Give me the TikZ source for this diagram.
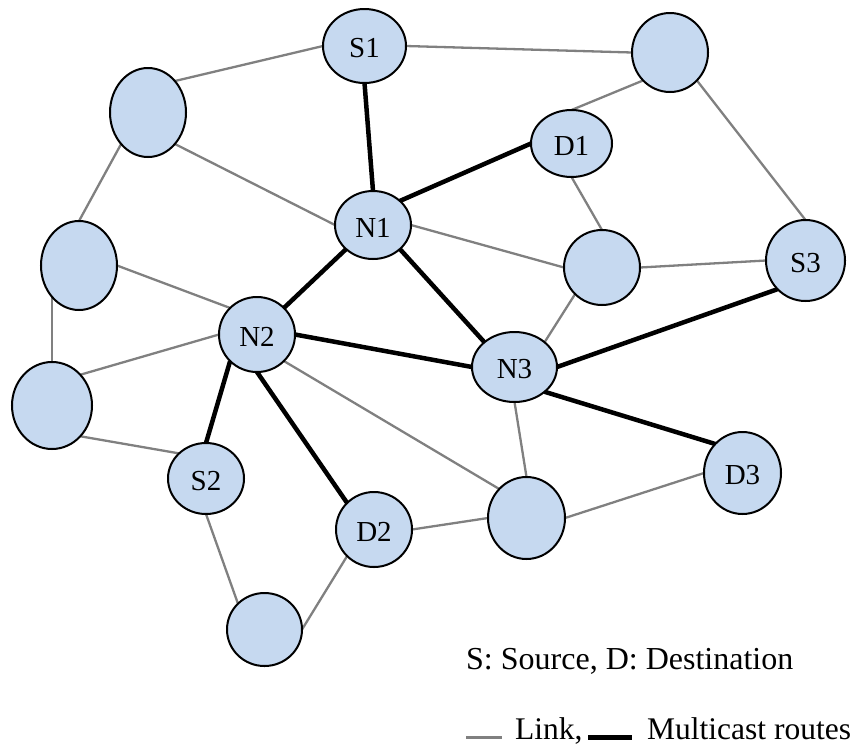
\documentclass[tikz,border=0pt]{standalone}
\usepackage{fontspec}
\setmainfont{Liberation Serif}
\usetikzlibrary{shapes.geometric,backgrounds}
\definecolor{nodefill}{RGB}{198,217,240}
\definecolor{linkgray}{RGB}{128,128,128}
\begin{document}
\begin{tikzpicture}[x=1pt,y=-1pt,
  router/.style={ellipse,draw=black,line width=2pt,fill=nodefill,inner sep=0pt,outer sep=0pt,
    text height=24pt,font=\fontsize{29}{33}\selectfont},
  link/.style={draw=linkgray,line width=2.3pt},
  route/.style={draw=black,line width=4.5pt},
  legend/.style={inner sep=0pt,anchor=base west,font=\fontsize{31.5}{36}\selectfont}]
\useasboundingbox (0,0) rectangle (856,745);

% routers and hosts
\node[router,minimum width=83pt,minimum height=74pt] (S1) at (364.5,46) {S1};
\node[router,minimum width=76pt,minimum height=79pt] (TR) at (670,52.5) {};
\node[router,minimum width=76pt,minimum height=89pt] (TL) at (148,112.5) {};
\node[router,minimum width=81pt,minimum height=67pt] (D1) at (571.5,143.5) {D1};
\node[router,minimum width=76pt,minimum height=68pt] (N1) at (373,225) {N1};
\node[router,minimum width=76pt,minimum height=89pt] (L) at (79,265.5) {};
\node[router,minimum width=76pt,minimum height=75pt] (MR) at (602,267.5) {};
\node[router,minimum width=79pt,minimum height=81pt] (S3) at (805.5,260.5) {S3};
\node[router,minimum width=76pt,minimum height=75pt] (N2) at (257,334.5) {N2};
\node[router,minimum width=80pt,minimum height=87pt] (LL) at (52,405.5) {};
\node[router,minimum width=85pt,minimum height=70pt] (N3) at (514.5,367) {N3};
\node[router,minimum width=76pt,minimum height=71pt] (S2) at (206,478.5) {S2};
\node[router,minimum width=77pt,minimum height=82pt] (D3) at (742.5,473) {D3};
\node[router,minimum width=76pt,minimum height=75pt] (D2) at (374,529.5) {D2};
\node[router,minimum width=77pt,minimum height=82pt] (BM) at (526.5,518) {};
\node[router,minimum width=75pt,minimum height=73pt] (B) at (264.5,629.5) {};

\begin{pgfonlayer}{background}
% plain links
\draw[link] (S1.west) -- (TL.north east);
\draw[link] (S1.east) -- (TR.west);
\draw[link] (TL.south east) -- (N1.west);
\draw[link] (TL.south west) -- (L.north);
\draw[link] (L.east) -- (N2.north west);
\draw[link] (L.south west) -- (L.south west |- LL.north);
\draw[link] (LL.north east) -- (N2.west);
\draw[link] (LL.south east) -- (S2.north west);
\draw[link] (S2.south) -- (B.north west);
\draw[link] (B.east) -- (D2.south west);
\draw[link] (D2.east) -- (BM.west);
\draw[link] (BM.east) -- (D3.west);
\draw[link] (N3.south) -- (BM.north);
\draw[link] (N2.south east) -- (BM.north west);
\draw[link] (N1.east) -- (MR.west);
\draw[link] (D1.south) -- (MR.north);
\draw[link] (D1.north) -- (TR.south west);
\draw[link] (TR.south east) -- (S3.north);
\draw[link] (MR.east) -- (S3.west);
\draw[link] (MR.south west) -- (N3.north east);

% multicast routes
\draw[route] (S1.south) -- (N1.north);
\draw[route] (N1.north east) -- (D1.west);
\draw[route] (N1.south west) -- (N2.north east);
\draw[route] (N1.south east) -- (N3.north west);
\draw[route] (N2.east) -- (N3.west);
\draw[route] (N2.south west) -- (S2.north);
\draw[route] (N2.south) -- (D2.north west);
\draw[route] (N3.east) -- (S3.south west);
\draw[route] (N3.south east) -- (D3.north west);
\end{pgfonlayer}

% legend
\node[legend,font=\fontsize{32}{36}\selectfont] (key1) at (466,669) {S: Source, D: Destination};
\coordinate (g1) at (466,737.5);
\coordinate (g2) at (502,737.5);
\draw[link] (g1) -- (g2);
\node[legend] (key2) at (515,739) {Link,};
\coordinate (b1) at (588,737.5);
\coordinate (b2) at (632,737.5);
\draw[route] (b1) -- (b2);
\node[legend] (key3) at (647,739) {Multicast routes};
\end{tikzpicture}
\end{document}
